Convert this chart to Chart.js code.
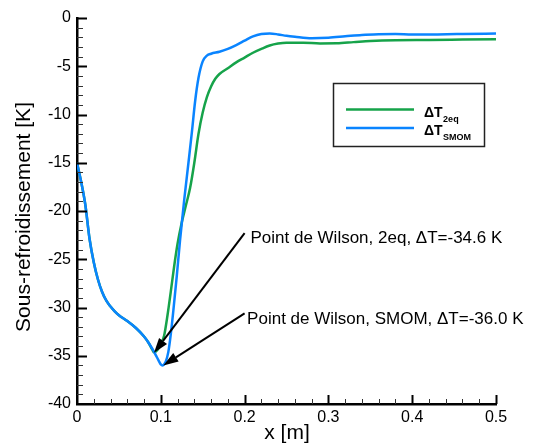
<!DOCTYPE html>
<html>
<head>
<meta charset="utf-8">
<script src="https://cdn.jsdelivr.net/npm/chart.js@4/dist/chart.umd.min.js"></script>
<style>
html,body{margin:0;padding:0;background:#fff;}
canvas{display:block;}
</style>
</head>
<body>
<canvas id="c" width="534" height="443"></canvas>
<script>
// ---- Data ----
const xSMOM = [0,0.005,0.01,0.015,0.02,0.025,0.03,0.035,0.04,0.045,0.05,0.06,0.07,0.08,0.085,0.09,0.095,0.098,0.1,0.102,0.104,0.106,0.109,0.112,0.115,0.119,0.123,0.128,0.133,0.137,0.141,0.145,0.15,0.155,0.16,0.17,0.18,0.19,0.2,0.21,0.22,0.23,0.24,0.25,0.26,0.28,0.3,0.32,0.34,0.36,0.38,0.4,0.43,0.46,0.5];
const ySMOM = [-15,-17.0,-19.4,-22.9,-25.3,-27.1,-28.4,-29.3,-29.9,-30.4,-30.8,-31.4,-32.1,-33.0,-33.6,-34.3,-35.1,-35.6,-35.9,-36.0,-35.9,-35.6,-34.6,-32.7,-30.3,-26.8,-23.0,-18.8,-15.0,-11.9,-8.6,-6.2,-4.5,-3.9,-3.7,-3.5,-3.2,-2.8,-2.35,-1.9,-1.65,-1.6,-1.7,-1.85,-1.95,-2.1,-2.05,-1.9,-1.75,-1.68,-1.66,-1.72,-1.7,-1.66,-1.6];

const x2eq = [0,0.005,0.01,0.015,0.02,0.025,0.03,0.035,0.04,0.045,0.05,0.06,0.07,0.08,0.085,0.09,0.092,0.096,0.1,0.104,0.108,0.112,0.116,0.12,0.125,0.13,0.135,0.14,0.145,0.15,0.155,0.16,0.165,0.17,0.18,0.19,0.2,0.21,0.22,0.23,0.24,0.25,0.27,0.29,0.31,0.33,0.35,0.38,0.42,0.46,0.5];
const y2eq = [-15,-17.0,-19.4,-22.9,-25.3,-27.1,-28.4,-29.3,-29.9,-30.4,-30.8,-31.4,-32.1,-33.0,-33.6,-34.4,-34.65,-34.4,-33.8,-32.9,-30.8,-28.3,-25.7,-23.4,-21.2,-19.4,-17.6,-15.0,-12.0,-9.8,-8.2,-7.1,-6.3,-5.8,-5.2,-4.6,-4.1,-3.6,-3.2,-2.85,-2.65,-2.56,-2.56,-2.63,-2.62,-2.5,-2.38,-2.3,-2.28,-2.24,-2.2];

const seriesNames = ['2eq', 'SMOM'];
const xTicks = [0, 0.1, 0.2, 0.3, 0.4, 0.5];
const yTicks = [-40, -35, -30, -25, -20, -15, -10, -5, 0];
const xTitle = 'x [m]';
const yTitle = 'Sous-refroidissement [K]';

// annotations (data units)
const annoText = ['Point de Wilson, 2eq, \u0394T=-34.6 K', 'Point de Wilson, SMOM, \u0394T=-36.0 K'];
const annoTip = [[0.0919, -34.7], [0.103, -36.0]];
const annoTail = [[0.2, -22.3], [0.2, -30.6]];
const annoLabelPos = [[0.207, -22.8], [0.203, -31.2]];

const FONT = '"Liberation Sans", Arial, Helvetica, sans-serif';
const GREEN = 'rgb(22,163,74)';
const BLUE = 'rgb(10,132,255)';

function pts(xs, ys){ return xs.map((x,i)=>({x:x, y:ys[i]})); }

const decor = {
  id: 'decor',
  afterDatasetsDraw(chart){
    const ctx = chart.ctx;
    const xs = chart.scales.x, ys = chart.scales.y;
    const a = chart.chartArea;
    ctx.save();
    // inward ticks
    for (let i = 1; i <= 25; i++){
      const v = i * 0.02;
      const px = Math.round(xs.getPixelForValue(v)) + 0.5;
      const major = i % 5 === 0;
      ctx.lineWidth = major ? 2 : 1;
      ctx.strokeStyle = major ? '#000' : '#333';
      ctx.beginPath();
      ctx.moveTo(px, a.bottom);
      ctx.lineTo(px, a.bottom - (major ? 9 : 5));
      ctx.stroke();
    }
    for (let i = 1; i <= 40; i++){
      const v = -40 + i;
      const py = Math.round(ys.getPixelForValue(v)) + 0.5;
      const major = i % 5 === 0;
      ctx.lineWidth = major ? 2 : 1;
      ctx.strokeStyle = major ? '#000' : '#333';
      ctx.beginPath();
      ctx.moveTo(a.left, py);
      ctx.lineTo(a.left + (major ? 10 : 6), py);
      ctx.stroke();
    }

    // arrows + labels
    ctx.fillStyle = '#000';
    ctx.strokeStyle = '#000';
    for (let k = 0; k < annoTip.length; k++){
      const tx = xs.getPixelForValue(annoTip[k][0]), ty = ys.getPixelForValue(annoTip[k][1]);
      const sx = xs.getPixelForValue(annoTail[k][0]), sy = ys.getPixelForValue(annoTail[k][1]);
      const ang = Math.atan2(ty - sy, tx - sx);
      const L = 15, W = 5;
      const bx = tx - L * Math.cos(ang), by = ty - L * Math.sin(ang);
      ctx.lineWidth = 2;
      ctx.beginPath();
      ctx.moveTo(sx, sy);
      ctx.lineTo(bx, by);
      ctx.stroke();
      ctx.beginPath();
      ctx.moveTo(tx, ty);
      ctx.lineTo(bx + W * Math.sin(ang), by - W * Math.cos(ang));
      ctx.lineTo(bx - W * Math.sin(ang), by + W * Math.cos(ang));
      ctx.closePath();
      ctx.fill();
      ctx.font = '17px ' + FONT;
      ctx.textAlign = 'left';
      ctx.textBaseline = 'middle';
      ctx.fillText(annoText[k], xs.getPixelForValue(annoLabelPos[k][0]), ys.getPixelForValue(annoLabelPos[k][1]));
    }

    // legend box
    const lx = 333, ly = 83, lw = 151, lh = 63;
    ctx.fillStyle = '#fff';
    ctx.fillRect(lx, ly, lw, lh);
    ctx.lineWidth = 1.5;
    ctx.strokeStyle = '#222';
    ctx.strokeRect(lx + 0.5, ly + 0.5, lw, lh);
    const ds = chart.data.datasets;
    const rows = [109.5, 128];
    for (let r = 0; r < ds.length; r++){
      ctx.strokeStyle = ds[r].borderColor;
      ctx.lineWidth = 2.5;
      ctx.beginPath();
      ctx.moveTo(346, rows[r]);
      ctx.lineTo(414, rows[r]);
      ctx.stroke();
      ctx.fillStyle = '#000';
      ctx.textAlign = 'left';
      ctx.textBaseline = 'alphabetic';
      ctx.font = 'bold 14px ' + FONT;
      ctx.fillText('\u0394T', 424, rows[r] + 7);
      const w = ctx.measureText('\u0394T').width;
      ctx.font = 'bold 9px ' + FONT;
      ctx.fillText(seriesNames[r], 424 + w + 0.5, rows[r] + 12);
    }

    // axis titles
    ctx.fillStyle = '#000';
    ctx.font = '21px ' + FONT;
    ctx.textAlign = 'center';
    ctx.textBaseline = 'middle';
    ctx.fillText(xTitle, (a.left + a.right) / 2 + 0.5, 433);
    ctx.save();
    ctx.translate(24, (a.top + a.bottom) / 2 + 6);
    ctx.rotate(-Math.PI / 2);
    ctx.fillText(yTitle, 0, 0);
    ctx.restore();
    ctx.restore();
  }
};

new Chart(document.getElementById('c'), {
  type: 'line',
  data: {
    datasets: [
      { label: '\u0394T 2eq', data: pts(x2eq, y2eq), borderColor: GREEN, borderWidth: 2.5, pointRadius: 0, cubicInterpolationMode: 'monotone', fill: false, order: 2 },
      { label: '\u0394T SMOM', data: pts(xSMOM, ySMOM), borderColor: BLUE, borderWidth: 2.5, pointRadius: 0, cubicInterpolationMode: 'monotone', fill: false, order: 1 }
    ]
  },
  options: {
    responsive: false,
    animation: false,
    devicePixelRatio: 1,
    layout: { padding: { top: 18, right: 38, left: 0, bottom: 0 } },
    plugins: { legend: { display: false }, tooltip: { enabled: false } },
    scales: {
      x: {
        type: 'linear', min: 0, max: 0.5,
        afterFit: s => { s.height = 39; },
        afterBuildTicks: s => { s.ticks = xTicks.map(v => ({ value: v })); },
        ticks: { font: { family: FONT, size: 16 }, color: '#000', padding: 4, maxRotation: 0, autoSkip: false,
                 callback: v => String(+v.toFixed(1)) },
        grid: { drawOnChartArea: false, drawTicks: false },
        border: { display: true, color: '#000', width: 2.5 }
      },
      y: {
        type: 'linear', min: -40, max: 0,
        afterFit: s => { s.width = 77; },
        afterBuildTicks: s => { s.ticks = yTicks.map(v => ({ value: v })); },
        ticks: { font: { family: FONT, size: 16 }, color: '#000', padding: 6, autoSkip: false },
        grid: { drawOnChartArea: false, drawTicks: false },
        border: { display: true, color: '#000', width: 2.5 }
      }
    }
  },
  plugins: [decor]
});
</script>
</body>
</html>
